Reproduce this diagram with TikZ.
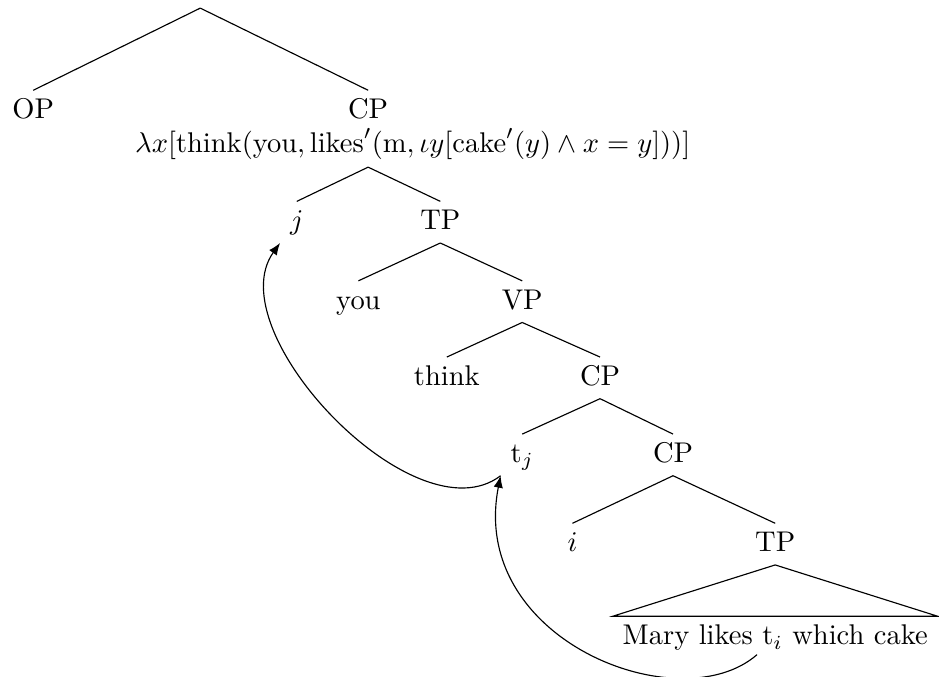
\documentclass[tikz,border=0pt]{standalone}
\usepackage{amsmath,amssymb}
\usetikzlibrary{calc,arrows.meta}
\tikzset{
  cat/.style={text height=1.5ex,text depth=.25ex},
  mv/.style={-{Latex[length=4.2pt,width=3.3pt]}}
}
\begin{document}
\begin{tikzpicture}
\useasboundingbox (0,0) rectangle (11.58,-8.34);
% top level
\coordinate (top) at (2.47,-0.10);
\node[cat] (op) at (0.41,-1.37) {OP};
\node[cat] (cpa) at (4.54,-1.37) {CP};
\node[anchor=north,inner ysep=0pt,text height=1.5ex,text depth=5pt,xshift=5.5mm,yshift=-0.5pt] (lam) at (cpa.south)
  {$\lambda x[\text{think}(\text{you},\text{likes}'(\text{m},\iota y[\text{cake}'(y)\wedge x=y]))]$};
\coordinate (lamb) at (cpa |- lam.south);
% lower levels
\node[cat] (j) at (3.66,-2.74) {$j$};
\node[cat] (tpa) at (5.43,-2.74) {TP};
\node[cat] (you) at (4.42,-3.72) {you};
\node[cat] (vp) at (6.44,-3.72) {VP};
\node[cat] (think) at (5.51,-4.66) {think};
\node[cat] (cpb) at (7.40,-4.66) {CP};
\node[cat] (tj) at (6.44,-5.61) {t$_j$};
\node[cat] (cpc) at (8.30,-5.61) {CP};
\node[cat] (i) at (7.06,-6.71) {$i$};
\node[cat] (tpb) at (9.56,-6.71) {TP};
\node[cat,anchor=north] (mary) at (9.56,-7.60) {Mary likes t$_i$ which cake};
\coordinate (ti) at ($(mary.south west)+(1.78,0.04)$);
% branches
\draw (top) -- (op.north);
\draw (top) -- (cpa.north);
\draw (lamb) -- (j.north);
\draw (lamb) -- (tpa.north);
\foreach \a/\b in {tpa/you,tpa/vp,vp/think,vp/cpb,cpb/tj,cpb/cpc,cpc/i,cpc/tpb}
  {\draw (\a.south) -- (\b.north);}
\draw (tpb.south) -- (mary.north west) -- (mary.north east) -- cycle;
% movement
\draw[mv] (tj.south west) .. controls +(-1.05,-0.80) and +(-0.78,-1.09) .. (j.south west);
\draw[mv] (ti) .. controls +(-0.95,-0.83) and +(-0.40,-2.03) .. (tj.south west);
\end{tikzpicture}
\end{document}
